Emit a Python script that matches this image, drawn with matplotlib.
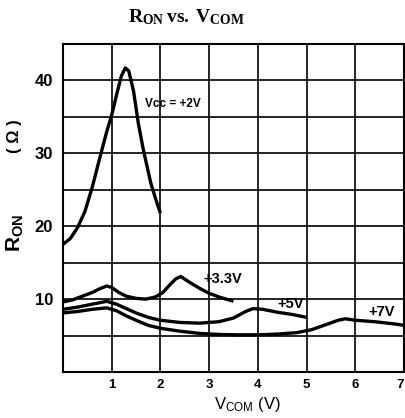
import matplotlib
matplotlib.use("Agg")
import matplotlib.pyplot as plt

# Dados (V_COM em V, R_ON em ohm)
x_2v = [0, 0.15, 0.3, 0.45, 0.6, 0.75, 0.9, 1.0, 1.1, 1.2, 1.28, 1.35, 1.45,
        1.55, 1.65, 1.8, 1.9, 2.0]
r_2v = [17.5, 18.3, 19.8, 22.0, 25.3, 29.2, 33.0, 35.2, 38.0, 40.6, 41.7, 41.3,
        38.5, 34.0, 30.5, 26.0, 23.8, 21.8]

x_33v = [0, 0.2, 0.4, 0.6, 0.75, 0.9, 1.0, 1.15, 1.3, 1.5, 1.7, 1.9, 2.05,
         2.2, 2.32, 2.42, 2.6, 2.8, 3.0, 3.2, 3.5]
r_33v = [9.6, 9.9, 10.4, 10.9, 11.4, 11.8, 11.6, 10.9, 10.4, 10.1, 10.0, 10.3,
         10.9, 12.0, 12.8, 13.1, 12.3, 11.5, 10.8, 10.3, 9.7]

x_5v = [0, 0.3, 0.6, 0.9, 1.1, 1.3, 1.5, 1.75, 2.0, 2.4, 2.8, 3.2, 3.5, 3.75,
        3.9, 4.1, 4.4, 4.7, 5.0]
r_5v = [8.6, 8.9, 9.3, 9.7, 9.3, 8.7, 8.1, 7.5, 7.1, 6.8, 6.7, 6.9, 7.4, 8.3,
        8.7, 8.6, 8.2, 7.9, 7.5]

x_7v = [0, 0.3, 0.6, 0.9, 1.1, 1.3, 1.5, 1.75, 2.0, 2.4, 2.8, 3.2, 3.6, 4.0,
        4.4, 4.8, 5.1, 5.4, 5.65, 5.8, 6.0, 6.4, 6.8, 7.0]
r_7v = [8.1, 8.3, 8.6, 8.8, 8.4, 7.7, 7.1, 6.4, 6.0, 5.6, 5.3, 5.15, 5.1, 5.1,
        5.2, 5.4, 5.8, 6.5, 7.1, 7.3, 7.1, 6.9, 6.6, 6.4]

x_ticks = [1, 2, 3, 4, 5, 6, 7]
y_ticks = [10, 20, 30, 40]

# Fontes do mathtext: serif negrito no titulo, sans negrito nos eixos
plt.rcParams["mathtext.fontset"] = "custom"
plt.rcParams["mathtext.rm"] = "Liberation Serif:bold"
plt.rcParams["mathtext.bf"] = "Liberation Sans:bold"
plt.rcParams["mathtext.sf"] = "Liberation Sans"

fig = plt.figure(figsize=(4.06, 4.18), dpi=100)
ax = fig.add_axes([0.155, 0.110, 0.840, 0.785])

# Curvas
for xs, ys in [(x_2v, r_2v), (x_33v, r_33v), (x_5v, r_5v), (x_7v, r_7v)]:
    ax.plot(xs, ys, color="black", lw=2.4, solid_joinstyle="round",
            solid_capstyle="butt", zorder=3)

# Grade
ax.set_xlim(0, 7)
ax.set_ylim(0, 45)
for gx in range(1, 7):
    ax.axvline(gx, color="black", lw=1.2, zorder=1)
for gy in range(5, 45, 5):
    ax.axhline(gy, color="black", lw=1.2, zorder=1)
for sp in ax.spines.values():
    sp.set_linewidth(1.5)

ax.set_xticks(x_ticks)
ax.set_xticklabels([str(t) for t in x_ticks], fontweight="bold", fontsize=9.5,
                   family="Liberation Sans")
# o ultimo rotulo encosta na borda, como no original
ax.get_xticklabels()[-1].set_horizontalalignment("right")
ax.set_yticks(y_ticks)
ax.set_yticklabels([str(t) for t in y_ticks], fontweight="bold", fontsize=12,
                   family="Liberation Sans")
ax.tick_params(axis="y", length=0, pad=7)
ax.tick_params(axis="x", length=0, pad=5)

# Rotulos das curvas
ax.text(1.68, 36.7, "Vcc = +2V", fontsize=8.5, fontweight="bold",
        family="Liberation Sans", va="center", ha="left")
for tx, ty, label in [(2.88, 12.7, "+3.3V"), (4.4, 9.3, "+5V"),
                      (6.26, 8.2, "+7V")]:
    ax.text(tx, ty, label, fontsize=10.5, fontweight="bold",
            family="Liberation Sans", va="center", ha="left")

# Titulo e eixos
fig.text(0.46, 0.958, r"$\mathrm{R_{ON}\,vs.\,V_{COM}}$",
         ha="center", va="center", fontsize=14)
fig.text(0.037, 0.442, r"$\mathbf{R_{ON}}$", rotation=90, ha="center",
         va="center", fontsize=15)
fig.text(0.035, 0.675, "( Ω )", rotation=90, ha="center", va="center",
         fontsize=12, fontweight="bold", family="Liberation Sans")
fig.text(0.61, 0.032, r"$\mathsf{V_{COM}}$ (V)", ha="center", va="center",
         fontsize=12, family="Liberation Sans")

fig.savefig("out.png", dpi=100)
